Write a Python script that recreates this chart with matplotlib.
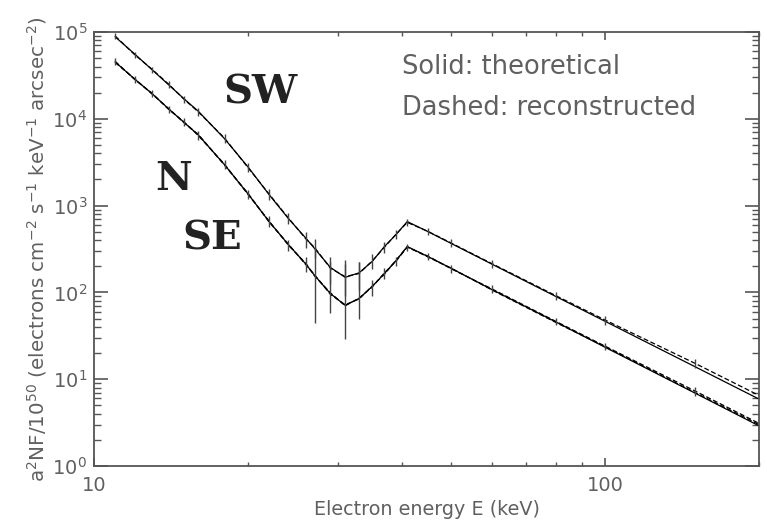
import numpy as np
import matplotlib
matplotlib.use("Agg")
import matplotlib.pyplot as plt
from matplotlib.ticker import LogLocator, NullFormatter, FixedLocator, FixedFormatter

# energies (keV)
energy = [11, 12, 13, 14, 15, 16, 18, 20, 22, 24, 26, 27, 29, 31, 33, 35, 37, 39,
          41, 45, 50, 60, 80, 100, 150, 200]

# theoretical curves
sw_theory = [8.8e4, 5.6e4, 3.66e4, 2.46e4, 1.70e4, 1.22e4, 5.9e3, 2.8e3, 1.34e3, 710,
             418, 321, 194, 149, 168, 227, 338, 465, 655, 502, 366, 212, 90, 46.4, 13.9, 5.9]
nse_theory = [4.52e4, 2.88e4, 1.94e4, 1.30e4, 9.1e3, 6.5e3, 2.96e3, 1.37e3, 655, 356,
              210, 157, 97, 71, 85, 117, 165, 233, 338, 259, 189, 108, 45.8, 23.3, 6.9, 2.9]

# reconstructed curves
sw_reco = [9.0e4, 5.5e4, 3.7e4, 2.5e4, 1.68e4, 1.20e4, 6.0e3, 2.75e3, 1.36e3, 720,
           410, 330, 190, 152, 165, 230, 332, 470, 640, 505, 370, 215, 92, 48, 15.2, 6.5]
n_reco = [4.6e4, 2.85e4, 1.96e4, 1.28e4, 9.2e3, 6.4e3, 3.0e3, 1.35e3, 665, 350,
          214, 155, 99, 70, 86, 115, 168, 230, 332, 262, 187, 110, 46.5, 24, 7.3, 3.1]
se_reco = [4.45e4, 2.9e4, 1.92e4, 1.31e4, 9.0e3, 6.6e3, 2.92e3, 1.39e3, 648, 360,
           207, 160, 95, 72, 84, 118, 162, 236, 335, 256, 190, 107, 45.2, 23.6, 7.0, 3.0]

# fractional error bars
sw_err = [0.08, 0.08, 0.08, 0.1, 0.1, 0.1, 0.12, 0.12, 0.15, 0.15, 0.2, 0.25, 0.35,
          0.4, 0.35, 0.2, 0.15, 0.12, 0.1, 0.1, 0.1, 0.1, 0.1, 0.12, 0.12, 0.15]
n_err_lo = [0.1, 0.1, 0.1, 0.1, 0.1, 0.12, 0.12, 0.12, 0.15, 0.15, 0.2, 0.71, 0.42,
            0.59, 0.42, 0.2, 0.15, 0.12, 0.1, 0.1, 0.1, 0.1, 0.1, 0.1, 0.12, 0.12]
n_err_hi = [0.1, 0.1, 0.1, 0.1, 0.1, 0.12, 0.12, 0.12, 0.15, 0.15, 0.2, 1.15, 1.28,
            2.37, 1.6, 0.2, 0.15, 0.12, 0.1, 0.1, 0.1, 0.1, 0.1, 0.1, 0.12, 0.12]

xticks = [10, 100]
xtick_labels = ["10", "100"]

grey = "#555555"
txt = "#606060"

fig = plt.figure(figsize=(7.67, 5.25), dpi=100)
ax = fig.add_axes([0.1226, 0.1124, 0.867, 0.8266])

E = np.array(energy)
ax.plot(E, sw_theory, color="black", lw=0.9)
ax.plot(E, nse_theory, color="black", lw=0.9)

dash = (0, (4, 2))
ax.plot(E, sw_reco, color="black", lw=0.9, ls=dash)
ax.plot(E, n_reco, color="black", lw=0.9, ls=dash)
ax.plot(E, se_reco, color="black", lw=0.9, ls=dash)

sw = np.array(sw_reco)
ax.errorbar(E, sw, yerr=[sw * np.array(sw_err), sw * np.array(sw_err)],
            fmt="none", ecolor="#444444", elinewidth=1.0, capsize=0)
nr = np.array(n_reco)
ax.errorbar(E, nr, yerr=[nr * np.array(n_err_lo), nr * np.array(n_err_hi)],
            fmt="none", ecolor="#444444", elinewidth=1.0, capsize=0)

ax.set_xscale("log")
ax.set_yscale("log")
ax.set_xlim(10, 200)
ax.set_ylim(1, 1e5)

ax.xaxis.set_major_locator(FixedLocator(xticks))
ax.xaxis.set_major_formatter(FixedFormatter(xtick_labels))
ax.xaxis.set_minor_locator(LogLocator(base=10, subs=np.arange(2, 10), numticks=10))
ax.xaxis.set_minor_formatter(NullFormatter())
ax.yaxis.set_major_locator(LogLocator(base=10, numticks=10))
ax.yaxis.set_minor_locator(LogLocator(base=10, subs=np.arange(2, 10), numticks=10))

ax.tick_params(axis="both", which="both", direction="in", top=True, right=True,
               colors=grey, labelcolor=txt, labelsize=14)
ax.tick_params(axis="y", which="major", length=10, width=1.2, pad=5)
ax.tick_params(axis="y", which="minor", length=5, width=1.0)
ax.tick_params(axis="x", which="major", length=6, width=1.2, pad=7)
ax.tick_params(axis="x", which="minor", length=3, width=1.0)

for sp in ax.spines.values():
    sp.set_color(grey)
    sp.set_linewidth(1.3)

ax.set_xlabel("Electron energy E (keV)", color=txt, fontsize=13.8, labelpad=4)
ax.set_ylabel(r"a$^2$NF/10$^{50}$ (electrons cm$^{-2}$ s$^{-1}$ keV$^{-1}$ arcsec$^{-2}$)",
              color=txt, fontsize=14.3, labelpad=2)

fig.text(260 / 767, 1 - 92 / 525, "SW", family="DejaVu Serif", weight="bold",
         fontsize=29, ha="center", va="center", color="#222222")
fig.text(174 / 767, 1 - 179 / 525, "N", family="DejaVu Serif", weight="bold",
         fontsize=29, ha="center", va="center", color="#222222")
fig.text(212 / 767, 1 - 238 / 525, "SE", family="DejaVu Serif", weight="bold",
         fontsize=29, ha="center", va="center", color="#222222")

fig.text(402 / 767, 1 - 67 / 525, "Solid: theoretical", fontsize=18.5,
         ha="left", va="center", color=txt)
fig.text(402 / 767, 1 - 108 / 525, "Dashed: reconstructed", fontsize=18.5,
         ha="left", va="center", color=txt)

fig.savefig("out.png", dpi=100)
